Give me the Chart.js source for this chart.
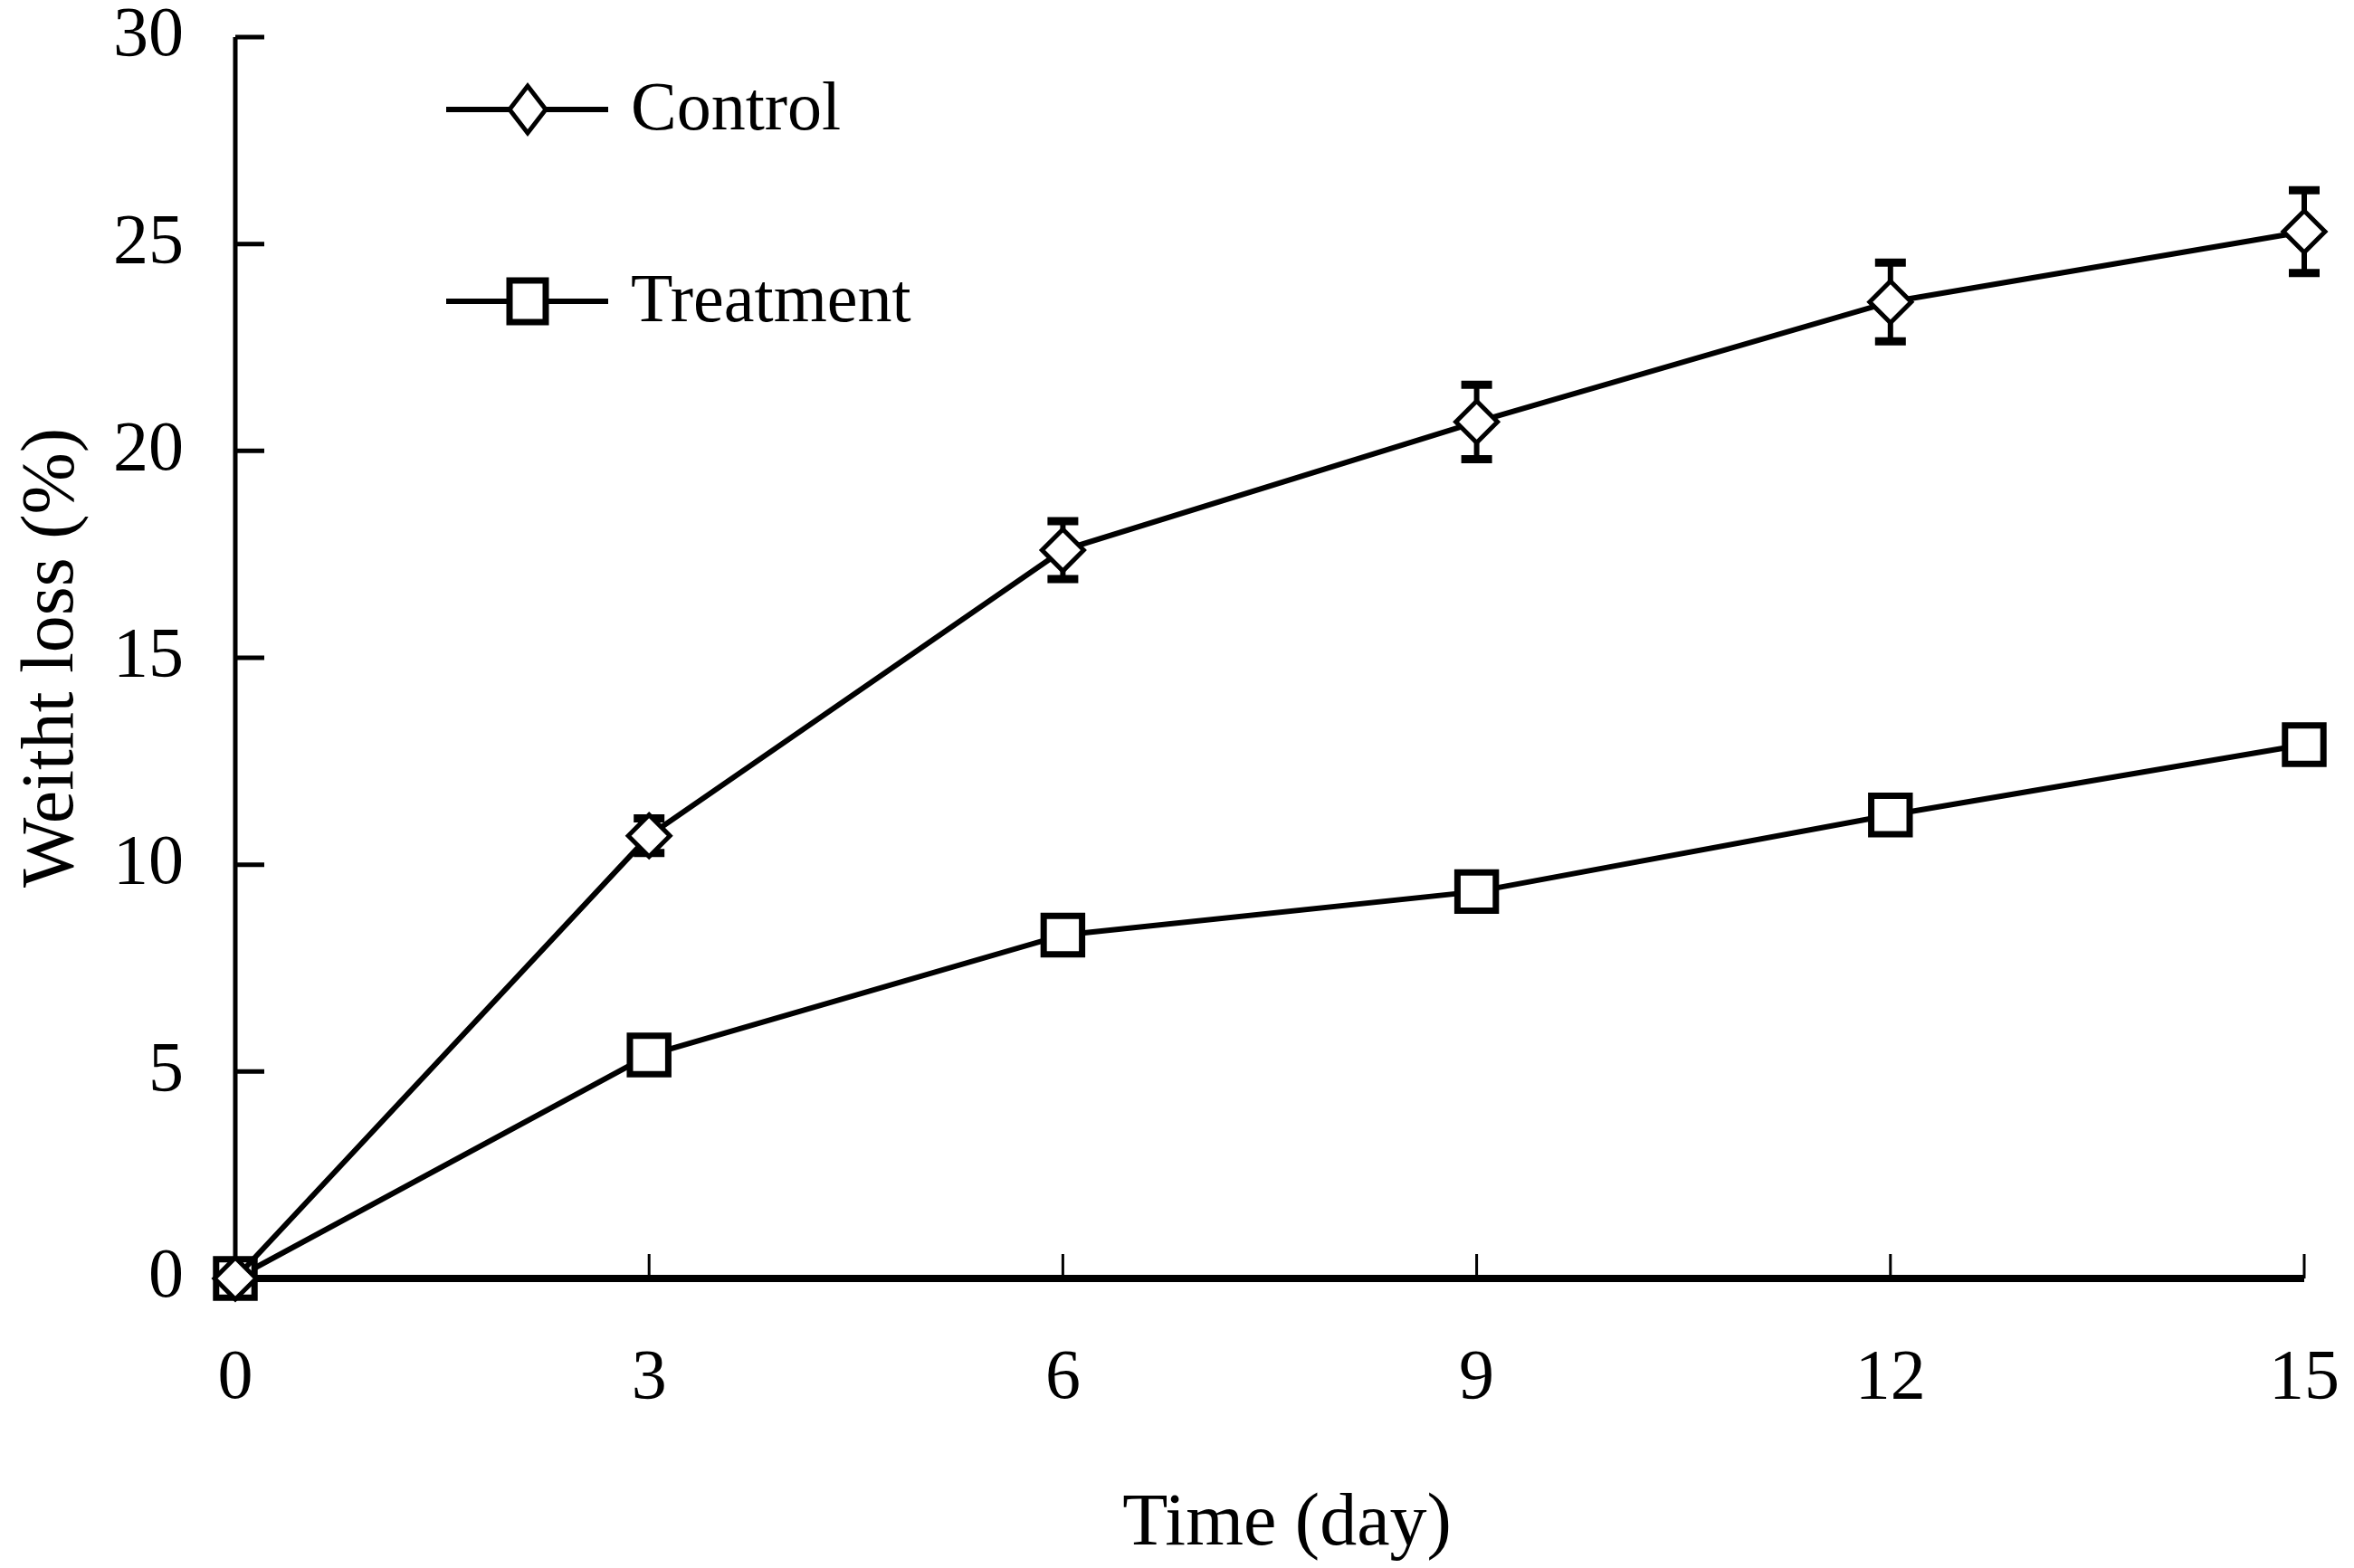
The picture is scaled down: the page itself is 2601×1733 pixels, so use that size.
<!DOCTYPE html>
<html lang="en">
<head>
    <meta charset="UTF-8">
    <title>Weight loss over time</title>
    <script src="https://cdn.jsdelivr.net/npm/chart.js"></script>
    <style>
        html, body {
            margin: 0;
            padding: 0;
            background: #fff;
        }
        .wrap {
            width: 2601px;
            height: 1733px;
        }
    </style>
</head>
<body>
    <div class="wrap"><canvas id="chart"></canvas></div>

    <script>
        // Values
        const days = [0, 3, 6, 9, 12, 15];
        const control = [0, 10.7, 17.6, 20.7, 23.6, 25.3];
        const controlErr = [0, 0.42, 0.7, 0.9, 0.95, 1.0];
        const treatment = [0, 5.4, 8.3, 9.35, 11.2, 12.9];
        const treatmentErr = [0, 0, 0, 0, 0, 0];
        const seriesNames = ['Control', 'Treatment'];
        const xTicks = [0, 3, 6, 9, 12, 15];
        const yTicks = [0, 5, 10, 15, 20, 25, 30];
        const xTitle = 'Time (day)';
        const yTitle = 'Weitht loss (%)';

        const serif = "'Liberation Serif', 'Times New Roman', serif";

        function points(ys) {
            return days.map((d, i) => ({ x: d, y: ys[i] }));
        }

        // error bars, drawn before the datasets so markers sit on top
        const errorBars = {
            id: 'errorBars',
            beforeDatasetsDraw(chart) {
                const { ctx, scales: { x, y } } = chart;
                ctx.save();
                ctx.strokeStyle = '#000';
                chart.data.datasets.forEach(ds => {
                    ds.data.forEach((p, i) => {
                        const e = ds.errors[i];
                        if (!e) return;
                        const px = x.getPixelForValue(p.x);
                        const top = y.getPixelForValue(p.y + e);
                        const bot = y.getPixelForValue(p.y - e);
                        ctx.lineWidth = 6;
                        ctx.beginPath();
                        ctx.moveTo(px, top);
                        ctx.lineTo(px, bot);
                        ctx.stroke();
                        ctx.lineWidth = 9;
                        ctx.beginPath();
                        ctx.moveTo(px - 17, top);
                        ctx.lineTo(px + 17, top);
                        ctx.moveTo(px - 17, bot);
                        ctx.lineTo(px + 17, bot);
                        ctx.stroke();
                    });
                });
                ctx.restore();
            }
        };

        // axis lines with ticks pointing into the plot, plus x labels and title
        const axesInward = {
            id: 'axesInward',
            beforeDatasetsDraw(chart) {
                const { ctx, chartArea: a, scales: { x, y } } = chart;
                ctx.save();
                ctx.strokeStyle = '#000';
                ctx.lineWidth = 5;
                ctx.beginPath();
                ctx.moveTo(a.left, a.top);
                ctx.lineTo(a.left, a.bottom);
                y.ticks.forEach(t => {
                    if (t.value === 0) return;
                    const py = y.getPixelForValue(t.value);
                    ctx.moveTo(a.left, py);
                    ctx.lineTo(a.left + 32, py);
                });
                ctx.stroke();
                ctx.lineWidth = 3;
                ctx.beginPath();
                x.ticks.forEach(t => {
                    if (t.value === 0) return;
                    const px = x.getPixelForValue(t.value);
                    ctx.moveTo(px, a.bottom);
                    ctx.lineTo(px, a.bottom - 27);
                });
                ctx.stroke();
                ctx.lineWidth = 8;
                ctx.beginPath();
                ctx.moveTo(a.left, a.bottom);
                ctx.lineTo(a.right, a.bottom);
                ctx.stroke();

                ctx.fillStyle = '#000';
                ctx.textAlign = 'center';
                ctx.textBaseline = 'middle';
                ctx.font = '78px ' + serif;
                xTicks.forEach(v => {
                    ctx.fillText(String(v), x.getPixelForValue(v), a.bottom + 112);
                });
                ctx.font = '82px ' + serif;
                ctx.fillText(xTitle, (a.left + a.right) / 2 + 19, a.bottom + 272);
                ctx.restore();
            }
        };

        // legend sitting inside the plot, top left
        const legendInside = {
            id: 'legendInside',
            afterDraw(chart) {
                const ctx = chart.ctx;
                const rows = [121, 333];
                chart.data.datasets.forEach((ds, i) => {
                    const yy = rows[i];
                    ctx.save();
                    ctx.strokeStyle = '#000';
                    ctx.lineWidth = 6;
                    ctx.beginPath();
                    ctx.moveTo(493, yy);
                    ctx.lineTo(672, yy);
                    ctx.stroke();
                    ctx.fillStyle = '#fff';
                    ctx.lineWidth = ds.pointBorderWidth;
                    ctx.beginPath();
                    if (ds.pointStyle === 'rectRot') {
                        ctx.moveTo(583, yy - 26);
                        ctx.lineTo(603, yy);
                        ctx.lineTo(583, yy + 26);
                        ctx.lineTo(563, yy);
                        ctx.closePath();
                    } else {
                        ctx.rect(563, yy - 23, 40, 46);
                    }
                    ctx.fill();
                    ctx.stroke();
                    ctx.fillStyle = '#000';
                    ctx.font = '76px ' + serif;
                    ctx.textBaseline = 'middle';
                    ctx.textAlign = 'left';
                    ctx.fillText(ds.label, 697, yy + 2);
                    ctx.restore();
                });
            }
        };

        const ctx = document.getElementById('chart').getContext('2d');
        const chart = new Chart(ctx, {
            type: 'line',
            data: {
                datasets: [{
                    label: seriesNames[0],
                    data: points(control),
                    errors: controlErr,
                    borderColor: '#000',
                    borderWidth: 6,
                    pointStyle: 'rectRot',
                    pointRadius: 23,
                    pointBorderWidth: 5,
                    pointBackgroundColor: '#fff',
                    pointBorderColor: '#000',
                    tension: 0,
                    clip: false
                }, {
                    label: seriesNames[1],
                    data: points(treatment),
                    errors: treatmentErr,
                    borderColor: '#000',
                    borderWidth: 6,
                    pointStyle: 'rect',
                    pointRadius: 30,
                    pointBorderWidth: 7,
                    pointBackgroundColor: '#fff',
                    pointBorderColor: '#000',
                    tension: 0,
                    clip: false
                }]
            },
            options: {
                responsive: true,
                maintainAspectRatio: false,
                animation: false,
                layout: {
                    padding: { top: 41, right: 55, left: 0, bottom: 0 }
                },
                plugins: {
                    legend: { display: false },
                    tooltip: { enabled: false }
                },
                scales: {
                    x: {
                        type: 'linear',
                        min: 0,
                        max: 15,
                        afterBuildTicks(scale) {
                            scale.ticks = xTicks.map(v => ({ value: v }));
                        },
                        afterFit(scale) {
                            scale.height = 320;
                            scale.paddingLeft = 0;
                            scale.paddingRight = 0;
                        },
                        grid: { display: false, drawTicks: false },
                        border: { display: false },
                        ticks: { display: false },
                        title: { display: false }
                    },
                    y: {
                        min: 0,
                        max: 30,
                        afterBuildTicks(scale) {
                            scale.ticks = yTicks.map(v => ({ value: v }));
                        },
                        afterFit(scale) {
                            scale.width = 260;
                            scale.paddingTop = 0;
                            scale.paddingBottom = 0;
                        },
                        grid: { display: false, drawTicks: false },
                        border: { display: false },
                        ticks: {
                            padding: 57,
                            color: '#000',
                            font: { family: serif, size: 78, lineHeight: 1 }
                        },
                        title: {
                            display: true,
                            text: yTitle,
                            color: '#000',
                            padding: { top: 17, bottom: 0 },
                            font: { family: serif, size: 82, lineHeight: 1 }
                        }
                    }
                }
            },
            plugins: [axesInward, errorBars, legendInside]
        });
    </script>
</body>
</html>
